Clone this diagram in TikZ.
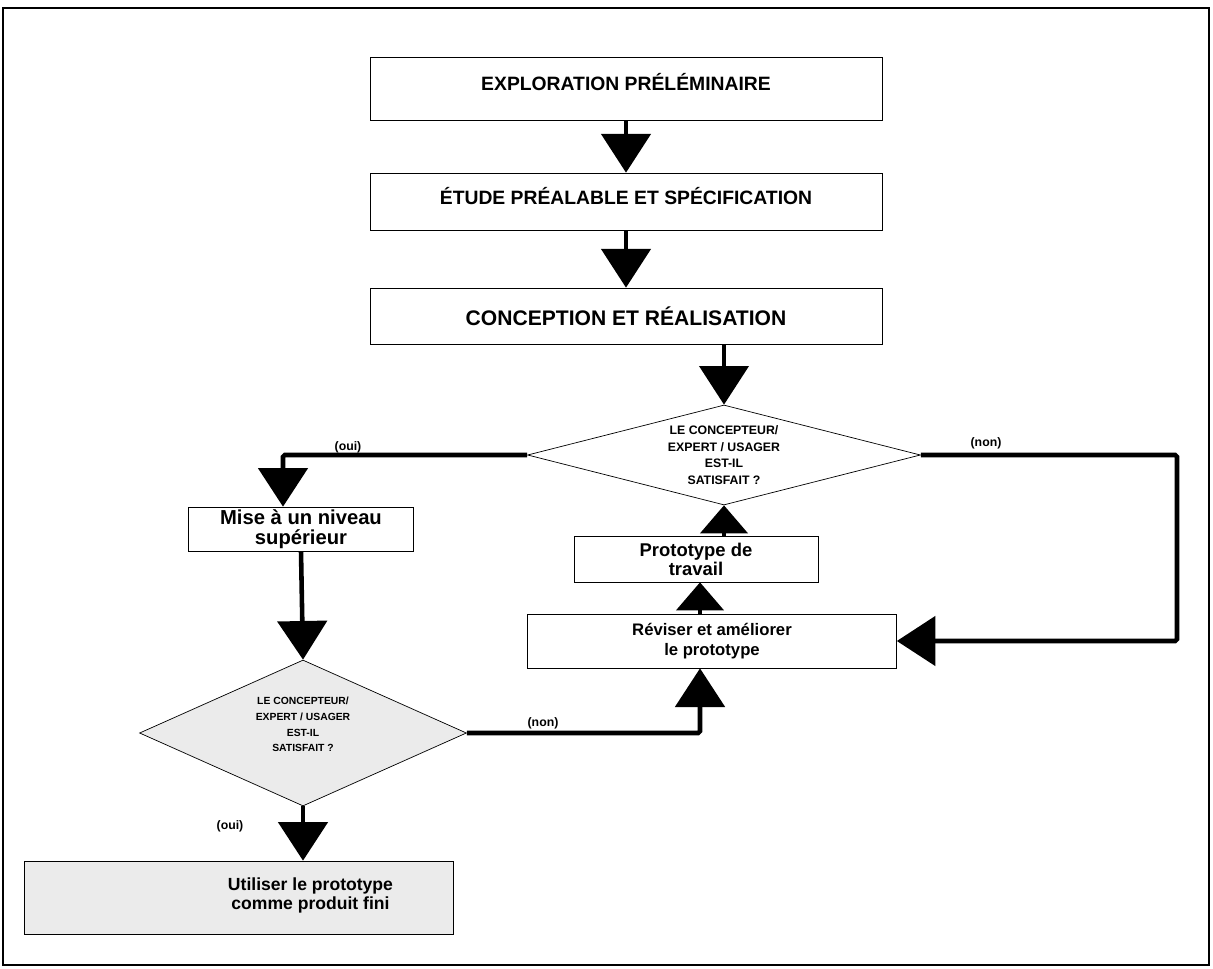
\documentclass[tikz,border=0pt]{standalone}
\usepackage{fontspec}
\setmainfont{Liberation Sans}
\usetikzlibrary{shapes.geometric,arrows.meta}

\begin{document}
\begin{tikzpicture}[x=0.02cm,y=-0.02cm,
	boite/.style={draw,rectangle,inner sep=0pt,align=center,font=\bfseries\fontsize{11}{12}\selectfont},
	losange/.style={draw,diamond,inner sep=0pt,align=center},
	fleche/.style={line width=2.6pt,-{Triangle[length=22pt,width=28pt]}},
	flechecourte/.style={line width=2pt,-{Triangle[length=16pt,width=27pt]}},
	etiq/.style={font=\bfseries\fontsize{7}{8}\selectfont}]

\useasboundingbox (0,0) rectangle (1213,969);
\draw[line width=1.4pt] (3,8) rectangle (1209,965);

%
\node[boite,minimum width=10.24cm,minimum height=1.26cm] (explo) at (626,88.5) {\raisebox{7pt}{EXPLORATION PRÉLÉMINAIRE}};
\node[boite,minimum width=10.24cm,minimum height=1.14cm] (etude) at (626,201.5) {\raisebox{6pt}{ÉTUDE PRÉALABLE ET SPÉCIFICATION}};
\node[boite,minimum width=10.24cm,minimum height=1.12cm,font=\bfseries\fontsize{12}{13}\selectfont] (concep) at (626,316) {CONCEPTION ET RÉALISATION};

\node[losange,aspect=3.9,minimum width=7.86cm,minimum height=2cm,font=\bfseries\fontsize{7}{9.5}\selectfont] (dec1) at (724,455) {LE CONCEPTEUR/\\EXPERT / USAGER\\EST-IL\\SATISFAIT ?};
\node[boite,minimum width=4.5cm,minimum height=0.88cm,font=\bfseries\fontsize{11.5}{11.5}\selectfont] (mise) at (301,529) {Mise à un niveau\\supérieur};
\node[boite,minimum width=4.88cm,minimum height=0.92cm,font=\bfseries\fontsize{10.5}{10.8}\selectfont] (proto) at (696,559) {Prototype de\\travail};
\node[boite,minimum width=7.38cm,minimum height=1.08cm,font=\bfseries\fontsize{9.5}{11}\selectfont] (revis) at (712,641) {Réviser et améliorer\\le prototype};
\node[losange,fill=black!8,aspect=2.24,minimum width=6.54cm,minimum height=2.92cm,font=\bfseries\fontsize{5.9}{9}\selectfont] (dec2) at (303,733) {\begin{tabular}{@{}c@{}}LE CONCEPTEUR/\\EXPERT / USAGER\\EST-IL\\SATISFAIT ?\rule[-11.7pt]{0pt}{11.7pt}\end{tabular}};
\node[boite,fill=black!8,minimum width=8.58cm,minimum height=1.46cm,font=\bfseries\fontsize{10}{11.3}\selectfont] (fini) at (238.5,897.5) {\hspace*{2.88cm}\begin{tabular}{@{}c@{}}Utiliser le prototype\\comme produit fini\rule[-5pt]{0pt}{5pt}\end{tabular}};

\coordinate (coin) at (1177,455);

\draw[fleche,line width=2pt] (explo.south) -- (etude.north);
\draw[fleche,line width=2pt] (etude.south) -- (concep.north);
\draw[fleche,line width=2pt] (concep.south -| dec1.north) -- (dec1.north);
\draw[fleche,rounded corners=1pt] (dec1.west) -| ([xshift=-0.36cm]mise.north);
\draw[fleche,rounded corners=1pt] (dec1.east) -- (coin) |- (revis.east);
\draw[fleche] (mise.south) -- (dec2.north);
\draw[fleche,rounded corners=1pt] (dec2.east) -| ([xshift=-0.24cm]revis.south);
\draw[flechecourte] ([xshift=-0.24cm]revis.north) -- ([xshift=-0.24cm]revis.north |- proto.south);
\draw[flechecourte] (proto.north -| dec1.south) -- (dec1.south);
\draw[fleche] (dec2.south) -- (dec2.south |- fini.north);

\node[etiq] (oui1) at (348,447) {(oui)};
\node[etiq] (non1) at (986,443) {(non)};
\node[etiq] (non2) at (543,723) {(non)};
\node[etiq] (oui2) at (230,826) {(oui)};

\end{tikzpicture}
\end{document}
